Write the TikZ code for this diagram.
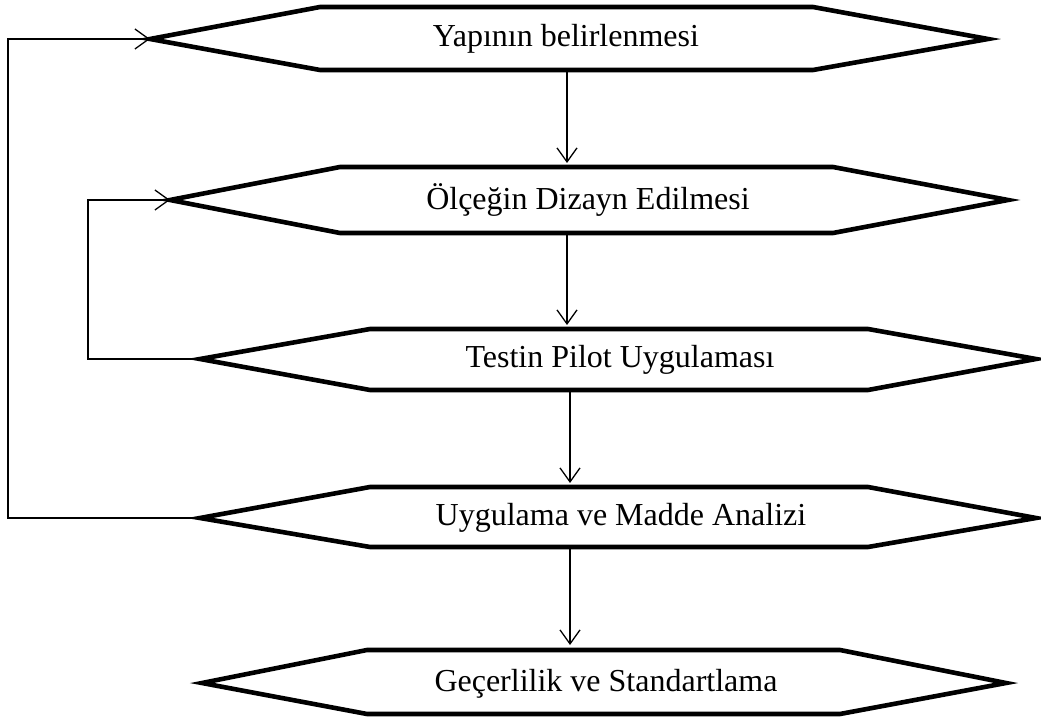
\documentclass[tikz,border=0pt]{standalone}
\usepackage{fontspec}
\setmainfont{Liberation Serif}
\usetikzlibrary{arrows.meta}
\tikzset{
  hexbox/.style={line width=2.3pt, line join=miter},
  label/.style={font=\fontsize{16}{19}\selectfont, inner sep=0pt},
  conn/.style={line width=0.65pt, -{Straight Barb[length=7pt,width=10pt,line width=0.65pt]}},
}
\newcommand{\hexshape}[8]{% name, L, lc, rc, R, top, mid, bot
  \draw[hexbox] (#2,#7) -- (#3,#6) -- (#4,#6) -- (#5,#7) -- (#4,#8) -- (#3,#8) -- cycle;
  \coordinate (#1L) at (#2,#7);
  \coordinate (#1R) at (#5,#7);
}
\begin{document}
\begin{tikzpicture}[x=0.5pt,y=-0.5pt]
\useasboundingbox (0,0) rectangle (1041,717);
% hexagons
\hexshape{h1}{150}{320}{813}{988}{7}{39}{70}
\hexshape{h2}{170}{340}{833}{1008}{167}{200}{233}
\hexshape{h3}{200}{370}{868}{1036}{329}{359}{390}
\hexshape{h4}{200}{370}{868}{1036}{487}{518}{547}
\hexshape{h5}{202}{367}{840}{1006}{650}{683}{714}
% labels
\node[label] (n1) at (566,39) {Yapının belirlenmesi};
\node[label] (n2) at (588,200) {Ölçeğin Dizayn Edilmesi};
\node[label] (n3) at (620,360) {Testin Pilot Uygulaması};
\node[label] (n4) at (621,518) {Uygulama ve Madde Analizi};
\node[label] (n5) at (606,684) {Geçerlilik ve Standartlama};
% connector end points on the hexagon edges
\coordinate (a1s) at (567,70);  \coordinate (a1e) at (567,163);
\coordinate (a2s) at (567,233); \coordinate (a2e) at (567,325);
\coordinate (a3s) at (570,390); \coordinate (a3e) at (570,483);
\coordinate (a4s) at (570,547); \coordinate (a4e) at (570,645);
\coordinate (f1) at (8,518);  \coordinate (f1t) at (8,39);
\coordinate (f2) at (88,359); \coordinate (f2t) at (88,200);
% vertical flow
\draw[conn] (a1s) -- (a1e);
\draw[conn] (a2s) -- (a2e);
\draw[conn] (a3s) -- (a3e);
\draw[conn] (a4s) -- (a4e);
% feedback loops
\draw[conn] (h4L) -- (f1) -- (f1t) -- (h1L);
\draw[conn] (h3L) -- (f2) -- (f2t) -- (h2L);
\end{tikzpicture}
\end{document}
